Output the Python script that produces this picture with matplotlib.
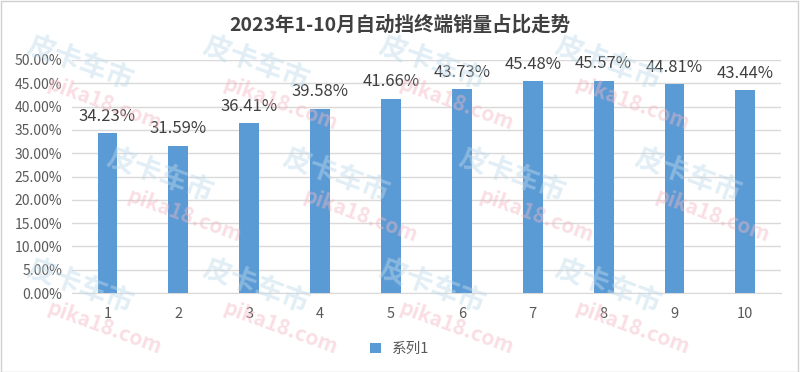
import matplotlib
matplotlib.use("Agg")
from matplotlib import pyplot as plt
from matplotlib.ticker import PercentFormatter

plt.rcParams['font.family'] = ['Noto Sans CJK SC', 'DejaVu Sans']

months = ['1', '2', '3', '4', '5', '6', '7', '8', '9', '10']
share = [34.23, 31.59, 36.41, 39.58, 41.66, 43.73, 45.48, 45.57, 44.81, 43.44]
title = '2023年1-10月自动挡终端销量占比走势'
series_name = '系列1'

bar_color = '#5B9BD5'
text_color = '#595959'

fig = plt.figure(figsize=(8, 3.72), dpi=100)
ax = fig.add_axes([0.09, 0.212, 0.886, 0.627])

x = list(range(len(months)))
bars = ax.bar(x, share, width=0.28, color=bar_color, label=series_name, zorder=3)
for rect, v in zip(bars, share):
    ax.annotate('%.2f%%' % v, (rect.get_x() + rect.get_width() / 2, v),
                xytext=(0, 6), textcoords='offset points', ha='center', va='bottom',
                fontsize=12, color='#404040', zorder=4)

ax.set_xlim(-0.5, len(months) - 0.5)
ax.set_ylim(0, 50)
ax.set_yticks(range(0, 51, 5))
ax.yaxis.set_major_formatter(PercentFormatter(decimals=2))
ax.set_xticks(x)
ax.set_xticklabels(months)
ax.tick_params(axis='both', length=0, labelsize=10, colors=text_color)
ax.tick_params(axis='y', pad=7)
ax.tick_params(axis='x', pad=10, labelsize=10.5)
ax.grid(axis='y', color='#D9D9D9', linewidth=1, zorder=0)
for s in ['top', 'right', 'left']:
    ax.spines[s].set_visible(False)
ax.spines['bottom'].set_color('#D9D9D9')

fig.text(0.5, 0.933, title, ha='center', va='center', fontsize=14,
         fontweight='bold', color='#404040')

fig.legend(loc='center', bbox_to_anchor=(0.5, 0.062), frameon=False,
           fontsize=10.5, handlelength=0.7, handleheight=0.7, labelcolor=text_color)

# faint watermarks, kept inside the picture
for i in range(4):
    for j in range(3):
        fx = 0.1 + i * 0.22 + (j % 2) * 0.1
        fy = 0.83 - j * 0.3
        fig.text(fx, fy, '皮卡车市', fontsize=20, fontweight='bold', color='#BFD9EA',
                 alpha=0.45, rotation=-20, ha='center', va='center', zorder=0)
        fig.text(fx + 0.03, fy - 0.11, 'pika18.com', fontsize=15, fontweight='bold',
                 color='#F2B8C3', alpha=0.45, rotation=-20, ha='center', va='center', zorder=0)

fig.patches.append(plt.Rectangle((0.001, 0.001), 0.997, 0.997, transform=fig.transFigure,
                                 fill=False, edgecolor='#D0D0D0', linewidth=1))

fig.savefig('out.png', dpi=100)
